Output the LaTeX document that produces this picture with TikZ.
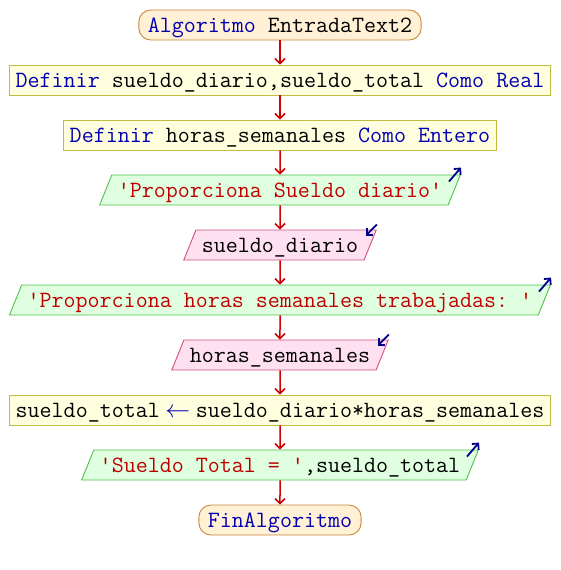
\documentclass[tikz,border=0pt]{standalone}
\usepackage{fontspec}
\setmonofont{Latin Modern Mono}
\usetikzlibrary{positioning,shapes.geometric,arrows.meta}
\definecolor{kwblue}{RGB}{0,0,176}
\definecolor{strred}{RGB}{192,0,0}
\definecolor{flowred}{RGB}{204,0,0}
\definecolor{ioblue}{RGB}{0,0,140}
\definecolor{termfill}{RGB}{255,240,214}
\definecolor{termline}{RGB}{200,136,56}
\definecolor{procfill}{RGB}{255,255,224}
\definecolor{procline}{RGB}{192,188,64}
\definecolor{outfill}{RGB}{224,255,224}
\definecolor{outline}{RGB}{80,192,80}
\definecolor{inpfill}{RGB}{255,224,240}
\definecolor{inpline}{RGB}{208,80,128}
\newcommand{\kw}[1]{\textcolor{kwblue}{#1}}
\newcommand{\txt}[1]{\textcolor{strred}{#1}}
\newcommand{\asig}{\textcolor{kwblue}{\makebox[12pt]{$\leftarrow$}}}
\begin{document}
\begin{tikzpicture}[
    node distance=24.1pt,
    box/.style={font=\ttfamily\fontsize{23.33}{27}\selectfont, line width=0.9pt,
      inner ysep=5pt, text height=17pt, text depth=3pt},
    term/.style={box, draw=termline, fill=termfill, rounded corners=12pt, inner xsep=9pt},
    proc/.style={box, draw=procline, fill=procfill, inner xsep=6pt},
    outp/.style={box, trapezium, trapezium left angle=68, trapezium right angle=112,
      trapezium stretches=true, draw=outline, fill=outfill, inner xsep=6pt},
    inp/.style={box, trapezium, trapezium left angle=68, trapezium right angle=112,
      trapezium stretches=true, draw=inpline, fill=inpfill, inner xsep=6pt},
    flow/.style={-{Straight Barb[length=5pt,width=10pt]}, draw=flowred, line width=1.5pt},
    ioarr/.style={-{Straight Barb[length=4.5pt,width=9pt]}, draw=ioblue, line width=1.8pt}
  ]
  \useasboundingbox (0,0) rectangle (560pt,-570pt);
  \node[term] (start) at (280pt,-25pt) {\kw{Algoritmo} EntradaText2};
  \node[proc, below=of start] (def1) {\kw{Definir} sueldo\_diario,sueldo\_total \kw{Como Real}};
  \node[proc, below=of def1] (def2) {\kw{Definir} horas\_semanales \kw{Como Entero}};
  \node[outp, below=of def2] (out1) {\txt{'Proporciona Sueldo diario'}};
  \node[inp, below=of out1] (in1) {sueldo\_diario};
  \node[outp, below=of in1] (out2) {\txt{'Proporciona horas semanales trabajadas: '}};
  \node[inp, below=of out2] (in2) {horas\_semanales};
  \node[proc, below=of in2] (calc) {sueldo\_total \asig{} sueldo\_diario*horas\_semanales};
  \node[outp, below=of calc] (out3) {\txt{'Sueldo Total = '},sueldo\_total};
  \node[term, below=of out3] (fin) {\kw{FinAlgoritmo}};

  \foreach \a/\b in {start/def1,def1/def2,def2/out1,out1/in1,in1/out2,out2/in2,in2/calc,calc/out3,out3/fin}
    \draw[flow] (\a) -- (\b);

  \foreach \o in {out1,out2,out3}
    \draw[ioarr] ([shift={(-12pt,-7pt)}]\o.top right corner) -- ++(12pt,14pt);
  \foreach \i in {in1,in2}
    \draw[ioarr] ([shift={(0pt,5pt)}]\i.top right corner) -- ++(-11pt,-11pt);
\end{tikzpicture}
\end{document}
